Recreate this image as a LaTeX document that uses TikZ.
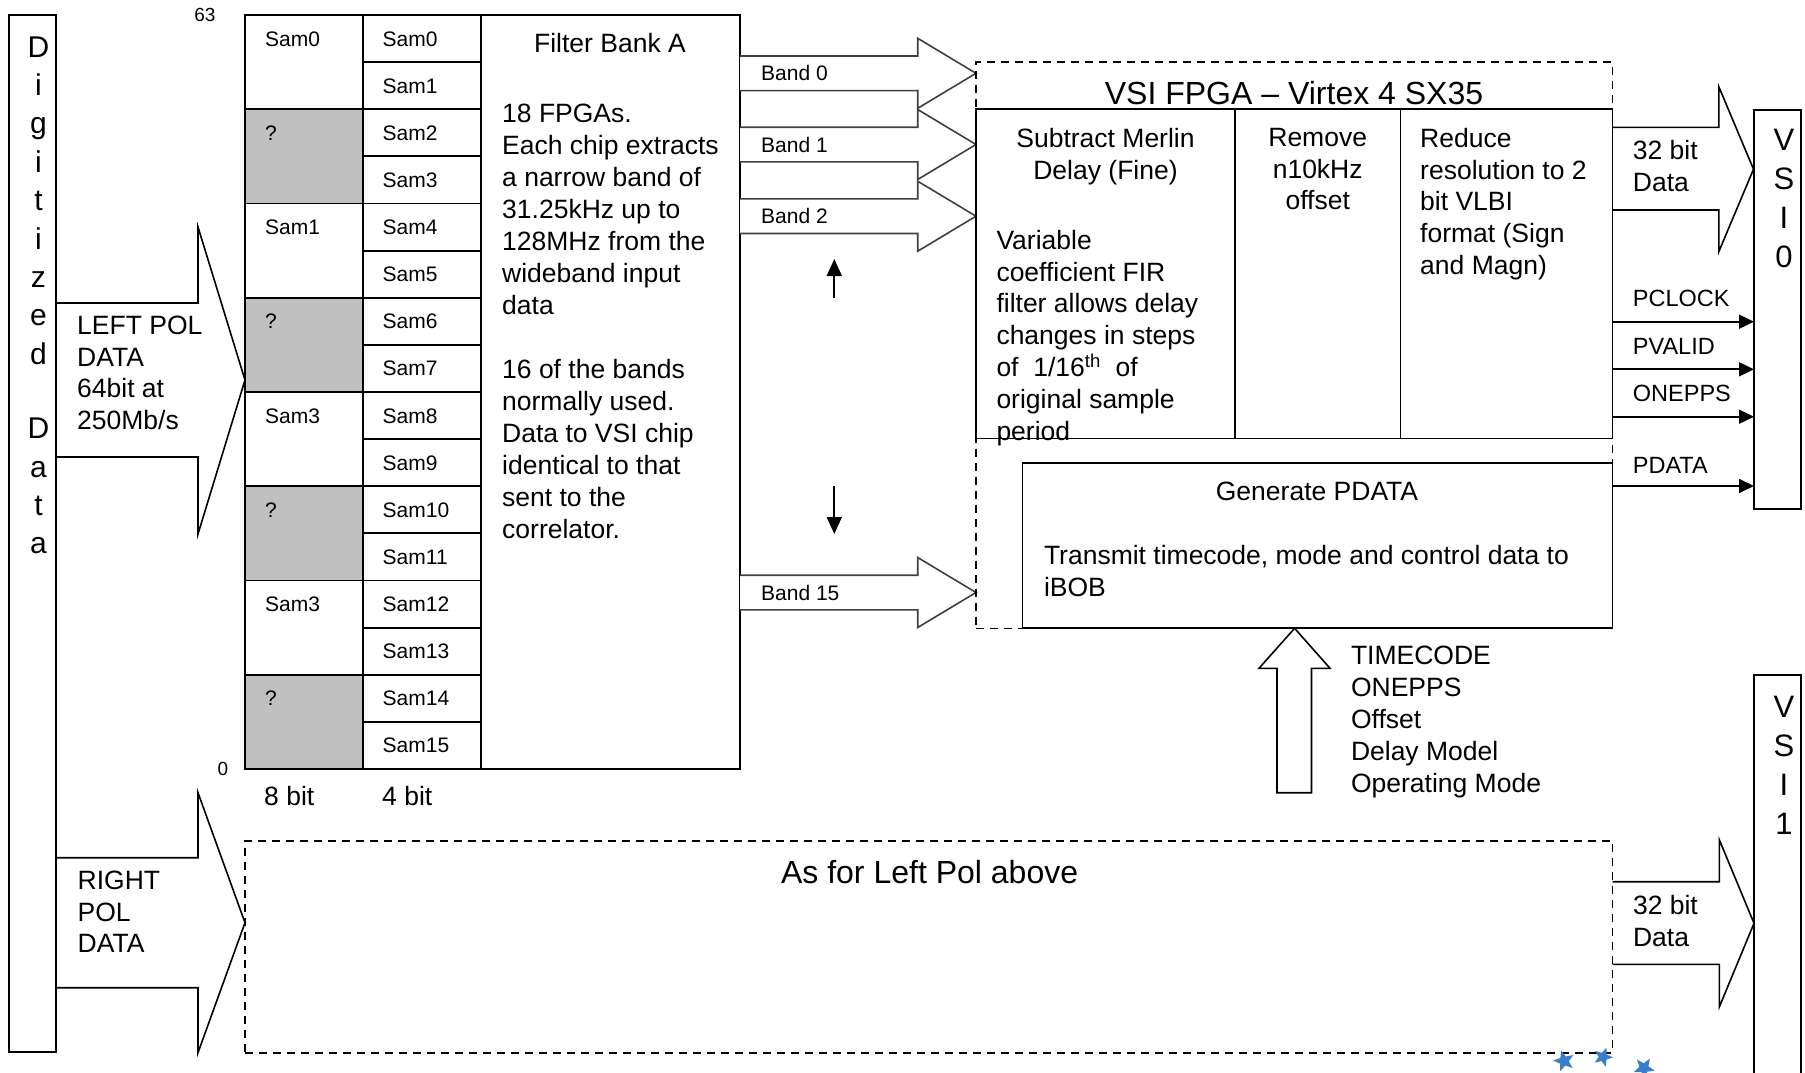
\documentclass[tikz,border=0pt]{standalone}
\usepackage{fontspec}
\setmainfont{Liberation Sans}
\usetikzlibrary{arrows.meta,shapes.geometric}
\definecolor{cellgray}{RGB}{192,192,192}
\definecolor{bandline}{RGB}{64,64,64}
\definecolor{markblue}{RGB}{58,125,200}
\begin{document}
\begin{tikzpicture}[x=1pt,y=-1pt,
  boxn/.style={draw=black, line width=1.8pt, inner sep=0pt, outer sep=0pt, anchor=north west},
  dsh/.style={boxn, dash pattern=on 8pt off 6pt, line width=1.6pt},
  mtxt/.style={inner sep=0pt, font=\fontsize{26.5}{31.8}\selectfont},
  stxt/.style={inner sep=0pt, font=\fontsize{21}{25}\selectfont},
  gtxt/.style={inner sep=0pt, font=\fontsize{23.5}{28}\selectfont},
  btxt/.style={inner sep=0pt, font=\fontsize{32}{38}\selectfont},
  ntxt/.style={inner sep=0pt, font=\fontsize{19}{22}\selectfont},
  vtxt/.style={inner sep=0pt, font=\fontsize{30}{38.4}\selectfont, align=center},
  band/.style={draw=bandline, line width=1.6pt, fill=white, line join=miter},
  blk/.style={draw=black, line width=1.6pt, line join=miter},
  sig/.style={line width=1.8pt, -{Triangle[length=15pt,width=14pt]}},
  small/.style={line width=1.8pt, -{Triangle[length=17pt,width=15pt]}},
  bluemark/.style={star, star points=5, star point ratio=2.3, fill=markblue, inner sep=0pt}
]
\useasboundingbox (0,0) rectangle (1805,1073);

% Digitized data column
\node[boxn, minimum width=47pt, minimum height=1037pt] (dig) at (9,15) {};
\node[vtxt, anchor=north] (digtxt) at (38.5,36.3) {D\\i\\g\\i\\t\\i\\z\\e\\d\\[36pt]D\\a\\t\\a};

% Left pol block arrow
\draw[blk] (56,303) -- (198,303) -- (198,227) -- (245,380) -- (198,534) -- (198,457) -- (56,457);
\node[mtxt, anchor=north west, align=left] (lefttxt) at (77,315.5) {LEFT POL\\DATA\\64bit at\\250Mb/s};

% Right pol block arrow
\draw[blk] (56,857.7) -- (198,857.7) -- (198,792.7) -- (245,922.7) -- (198,1052.7) -- (198,987.7) -- (56,987.7);
\node[mtxt, anchor=north west, align=left, font=\fontsize{26.5}{31.2}\selectfont] (righttxt) at (77.5,871.2) {RIGHT\\POL\\DATA};

% bit labels
\node[ntxt, anchor=base] (n63) at (205,22) {63};
\node[ntxt, anchor=base] (n0) at (223,775) {0};
\node[mtxt, anchor=base west] (b8) at (264,805.5) {8 bit};
\node[mtxt, anchor=base west] (b4) at (382,805.5) {4 bit};

% sample table
\foreach \i/\t/\f in {0/Sam0/white,1/?/cellgray,2/Sam1/white,3/?/cellgray,4/Sam3/white,5/?/cellgray,6/Sam3/white,7/?/cellgray}{
  \node[boxn, fill=\f, minimum width=117.7pt, minimum height=94.25pt] (l\i) at (245,15+\i*94.25) {};
  \node[stxt, anchor=base west] (lt\i) at (265,15+\i*94.25+31.06) {\t};
}
\foreach \i in {0,...,15}{
  \node[boxn, minimum width=118.3pt, minimum height=47.125pt] (r\i) at (362.7,15+\i*47.125) {};
  \node[stxt, anchor=base west] (rt\i) at (382.5,15+\i*47.125+31.06) {Sam\i};
}
\node[boxn, minimum width=259pt, minimum height=754pt] (fba) at (481,15) {};
\node[mtxt, anchor=base] (fbatitle) at (610,52.5) {Filter Bank A};
\node[mtxt, anchor=north west, align=left, font=\fontsize{26.5}{32}\selectfont] (fbatxt) at (502,103.5)
  {18 FPGAs.\\Each chip extracts\\a narrow band of\\31.25kHz up to\\128MHz from the\\wideband input\\data\\[32pt]16 of the bands\\normally used.\\Data to VSI chip\\identical to that\\sent to the\\correlator.};

% band arrows
\foreach \c/\n/\lab in {73.3/0/Band 0,144.5/1/Band 1,216.2/2/Band 2,592.5/15/Band 15}{
  \draw[band] (740,\c-17.3) -- (917.7,\c-17.3) -- (917.7,\c-35) -- (976,\c) -- (917.7,\c+35) -- (917.7,\c+17.3) -- (740,\c+17.3);
  \node[stxt, anchor=base west] (band\n) at (761,\c+7.5) {\lab};
}
\coordinate (upbot) at (834.3,298.3);
\coordinate (uptop) at (834.3,259);
\coordinate (dntop) at (834.3,486);
\coordinate (dnbot) at (834.3,534);
\draw[small] (upbot) -- (uptop);
\draw[small] (dntop) -- (dnbot);

% VSI FPGA
\node[dsh, minimum width=636.5pt, minimum height=566.3pt] (vsi) at (976,62) {};
\node[boxn, fill=white, minimum width=259pt, minimum height=329.5pt] (c1) at (976,109) {};
\node[boxn, fill=white, minimum width=165.4pt, minimum height=329.5pt] (c2) at (1235,109) {};
\node[boxn, fill=white, minimum width=212.1pt, minimum height=329.5pt] (c3) at (1400.4,109) {};
\node[btxt, anchor=base] (vsititle) at (1294,104.5) {VSI FPGA \textendash\ Virtex 4 SX35};
\node[mtxt, anchor=north, align=center] (c1h) at (1105.5,127.8) {Subtract Merlin\\Delay (Fine)};
\node[mtxt, anchor=north west, align=left] (c1b) at (996.3,229.8)
  {Variable\\coefficient FIR\\filter allows delay\\changes in steps\\of\ \ 1/16\textsuperscript{th}\ \ of\\original sample\\period};
\node[mtxt, anchor=north, align=center] (c2t) at (1317.7,127.8) {Remove\\n10kHz\\offset};
\node[mtxt, anchor=north west, align=left] (c3t) at (1420,127.8) {Reduce\\resolution to 2\\bit VLBI\\format (Sign\\and Magn)};

\node[boxn, fill=white, minimum width=590pt, minimum height=165.6pt] (gen) at (1022.5,462.7) {};
\node[mtxt, anchor=base] (gent) at (1317,500.5) {Generate PDATA};
\node[mtxt, anchor=north west, align=left] (genb) at (1043.8,545.5) {Transmit timecode, mode and control data to\\iBOB};

% timecode block arrow
\draw[blk] (1277,792.7) -- (1277,668.3) -- (1259,668.3) -- (1294.6,628.3) -- (1330,668.3) -- (1311.5,668.3) -- (1311.5,792.7) -- cycle;
\node[mtxt, anchor=north west, align=left, font=\fontsize{26.5}{32}\selectfont] (tclist) at (1350.8,645.5)
  {TIMECODE\\ONEPPS\\Offset\\Delay Model\\Operating Mode};

% VSI 0
\node[boxn, minimum width=47pt, minimum height=399pt] (vsi0) at (1754,110) {};
\node[vtxt, anchor=north, font=\fontsize{31}{39}\selectfont] (vsi0t) at (1784,128.9) {V\\S\\I\\0};
\draw[blk] (1612.5,127.3) -- (1718.8,127.3) -- (1718.8,86.7) -- (1753.5,169.2) -- (1718.8,251.7) -- (1718.8,210) -- (1612.5,210);
\node[mtxt, anchor=north west, align=left] (d32a) at (1632.7,139.8) {32 bit\\Data};

\foreach \y/\ly/\lab in {321.7/298.3/PCLOCK,369.3/346/PVALID,416.7/393.3/ONEPPS,486/465/PDATA}{
  \coordinate (s\lab) at (1612.5,\y);
  \coordinate (e\lab) at (1754,\y);
  \draw[sig] (s\lab) -- (e\lab);
  \node[gtxt, anchor=base west] (t\lab) at (1632.7,\ly+8.4) {\lab};
}

% VSI 1
\node[boxn, minimum width=47pt, minimum height=420pt] (vsi1) at (1754,675) {};
\node[vtxt, anchor=north, font=\fontsize{31}{39}\selectfont] (vsi1t) at (1784,695.6) {V\\S\\I\\1};

% lower (right pol) section
\node[dsh, minimum width=1367.6pt, minimum height=212pt] (rpbox) at (245,840.7) {};
\node[btxt, anchor=base] (rptxt) at (929.6,883) {As for Left Pol above};
\draw[blk] (1612.6,881.7) -- (1719.4,881.7) -- (1719.4,840) -- (1754,923.3) -- (1719.4,1006.7) -- (1719.4,964.3) -- (1612.6,964.3);
\node[mtxt, anchor=north west, align=left] (d32b) at (1632.8,895.5) {32 bit\\Data};

% blue handle marks
\node[bluemark, minimum size=22pt, rotate=15] (m1) at (1564,1061) {};
\node[bluemark, minimum size=20pt, rotate=-20] (m2) at (1603,1057) {};
\node[bluemark, minimum size=22pt, rotate=40] (m3) at (1644,1068) {};
\end{tikzpicture}
\end{document}
